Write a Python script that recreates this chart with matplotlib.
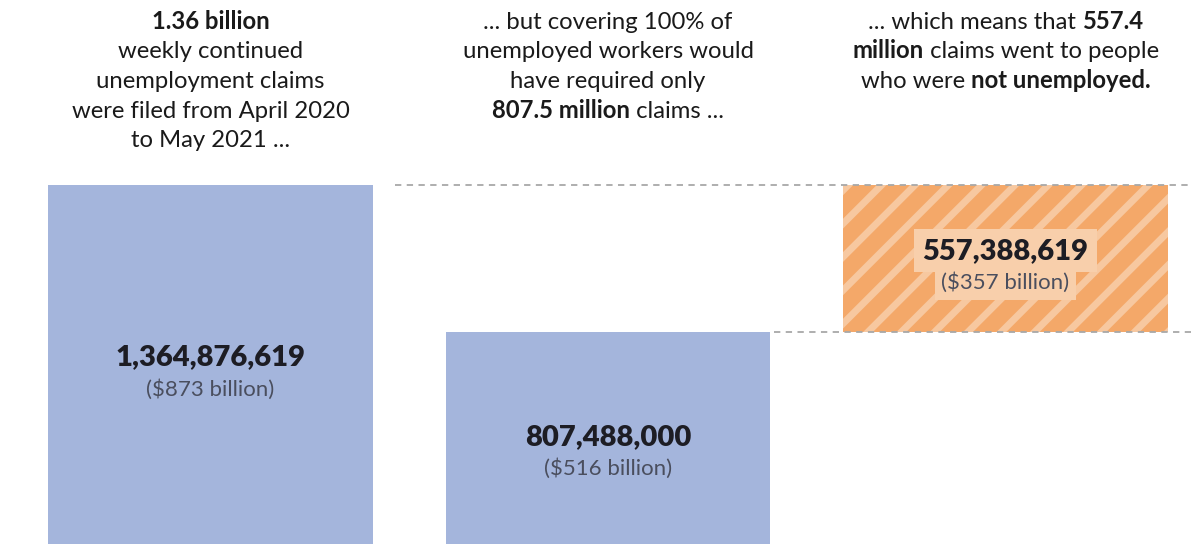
import matplotlib
matplotlib.use("Agg")
import matplotlib.pyplot as plt

plt.rcParams['font.family'] = ['Lato', 'DejaVu Sans']
plt.rcParams['hatch.linewidth'] = 5

# data (millions of claims)
steps = ["filed", "needed", "excess"]
claims = [1364.876619, 807.488, 557.388619]
value_labels = ["1,364,876,619", "807,488,000", "557,388,619"]
dollar_labels = ["($873 billion)", "($516 billion)", "($357 billion)"]

# header lines, each a list of (text, bold) segments
headers = [
    [[("1.36 billion", True)],
     [("weekly continued", False)],
     [("unemployment claims", False)],
     [("were filed from April 2020", False)],
     [("to May 2021 ...", False)]],
    [[("... but covering 100% of", False)],
     [("unemployed workers would", False)],
     [("have required only", False)],
     [("807.5 million", True), (" claims ...", False)]],
    [[("... which means that ", False), ("557.4", True)],
     [("million", True), (" claims went to people", False)],
     [("who were ", False), ("not unemployed.", True)]],
]

W, H = 1191, 544
fig = plt.figure(figsize=(W / 100, H / 100), dpi=100)
ax = fig.add_axes([0, 0, 1, 1])
ax.set_xlim(-0.5296, 2.4667)
ax.set_ylim(0, 2068)
ax.axis("off")

blue = "#a4b5dc"
orange = "#f4a869"
stripe = "#f7c8a0"
bw = 0.8176

# waterfall bars
ax.bar(0, claims[0], width=bw, color=blue, linewidth=0)
ax.bar(1, claims[1], width=bw, color=blue, linewidth=0)
ax.bar(2, claims[2], width=bw, bottom=claims[1], color=orange,
       edgecolor=stripe, hatch="/", linewidth=0)

# dashed guides
ax.hlines(claims[0], 0.464, 2.4667, colors="#a8a8a8",
          linestyles=(0, (3.5, 3)), linewidth=1.3)
ax.hlines(claims[1], 1 + bw / 2 + 0.01, 2.4667, colors="#a8a8a8",
          linestyles=(0, (3.5, 3)), linewidth=1.3)

# value labels
num_pos = [claims[0] * 0.498, claims[1] * 0.466, claims[1] + claims[2] * 0.497]
for i in range(3):
    y = num_pos[i]
    box = None
    box2 = None
    if i == 2:
        box = dict(boxstyle="square,pad=0.3", fc="#f8cfab", ec="none")
        box2 = dict(boxstyle="square,pad=0.3", fc="#f8cfab", ec="none")
    ax.text(i, y, value_labels[i], ha="center", va="baseline", fontsize=21,
            fontweight="heavy", color="#1d1d24", bbox=box)
    ax.text(i, y - 115, dollar_labels[i], ha="center", va="baseline",
            fontsize=16, color="#4a4e5e", bbox=box2)

# headers with mixed weights
fig.canvas.draw()
renderer = fig.canvas.get_renderer()
baselines = [29, 58.5, 88, 117.5, 147]
for i, lines in enumerate(headers):
    cx = ax.transData.transform((i, 0))[0]
    for j, segs in enumerate(lines):
        yb = 1 - baselines[j] / H
        texts = []
        for s, bold in segs:
            t = fig.text(0, yb, s, ha="left", va="baseline", fontsize=17.2,
                         fontweight="bold" if bold else "normal",
                         color="#1a1a1a")
            texts.append(t)
        widths = [t.get_window_extent(renderer).width for t in texts]
        x = cx - sum(widths) / 2
        for t, w in zip(texts, widths):
            t.set_x(x / W)
            x += w

fig.savefig("out.png", dpi=100)
